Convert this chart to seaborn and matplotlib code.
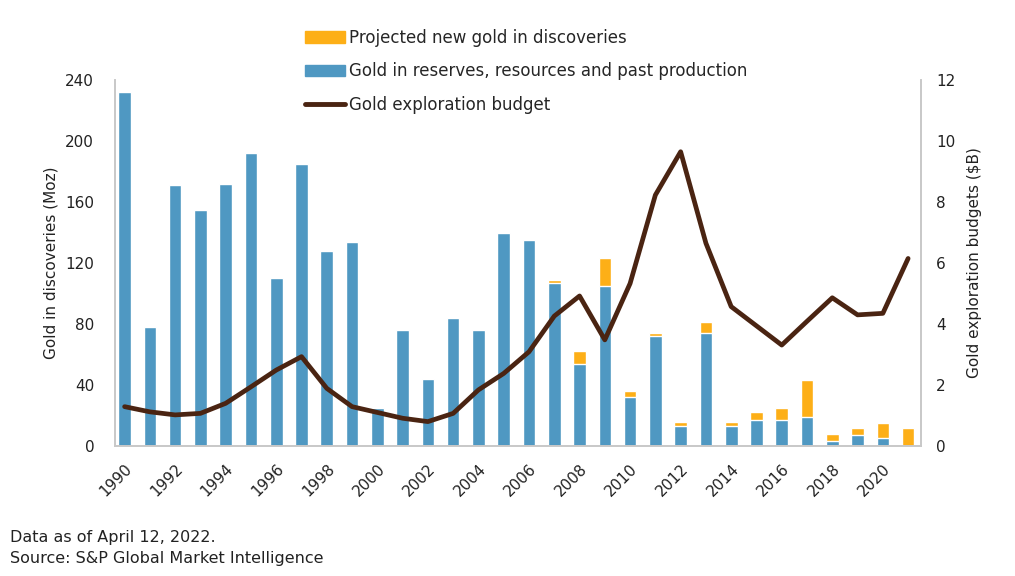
import numpy as np
import pandas as pd
import matplotlib
matplotlib.use("Agg")
import matplotlib.pyplot as plt
import seaborn as sns
from matplotlib.patches import Patch
from matplotlib.lines import Line2D

years = list(range(1990, 2022))
# Moz
reserves = [232, 78, 171, 155, 172, 192, 110, 185, 128, 134, 25, 76,
            44, 84, 76, 140, 135, 107, 54, 105, 32, 72, 13, 74,
            13, 17, 17, 19, 3, 7, 5, 0]
projected = [0, 0, 0, 0, 0, 0, 0, 0, 0, 0, 0, 0,
             0, 0, 0, 0, 0, 2, 8, 18, 4, 2, 3, 7,
             3, 5, 8, 24, 5, 5, 10, 12]
# $B
budget = [1.29, 1.12, 1.02, 1.07, 1.40, 1.94, 2.49, 2.93, 1.89, 1.29, 1.10, 0.91,
          0.80, 1.07, 1.84, 2.38, 3.09, 4.26, 4.92, 3.48, 5.33, 8.23, 9.65, 6.65,
          4.57, 3.94, 3.31, 4.09, 4.86, 4.30, 4.35, 6.15]

df = pd.DataFrame({"year": years, "reserves": reserves, "projected": projected, "budget": budget})
df["total"] = df["reserves"] + df["projected"]

blue = "#4F98C2"
orange = "#FDAF17"
brown = "#4A2412"
gray = "#C8C8C8"
txt = "#222222"

sns.set_style("white")
plt.rcParams["font.family"] = ["DejaVu Sans"]

fig, ax = plt.subplots(figsize=(10.15, 5.76), dpi=100)
fig.subplots_adjust(left=0.1133, right=0.9074, top=0.861, bottom=0.2257)

# stacked bars: total in orange, blue part drawn over it
sns.barplot(data=df, x="year", y="total", native_scale=True, width=0.5,
            color=orange, saturation=1, ax=ax)
sns.barplot(data=df, x="year", y="reserves", native_scale=True, width=0.5,
            color=blue, saturation=1, ax=ax)

ax2 = ax.twinx()
sns.lineplot(data=df, x="year", y="budget", color=brown, linewidth=3.4, ax=ax2)

ax.set_xlim(1989.62, 2021.51)
ax.set_ylim(0, 240)
ax2.set_ylim(0, 12)
ax.set_yticks(range(0, 241, 40))
ax2.set_yticks(range(0, 13, 2))
ax.set_xticks(range(1990, 2021, 2))
ax.set_xticklabels([str(y) for y in range(1990, 2021, 2)], rotation=45,
                   ha="right", rotation_mode="anchor")

ax.set_xlabel("")
ax.set_ylabel("Gold in discoveries (Moz)", fontsize=11, color=txt, labelpad=5)
ax2.set_ylabel("Gold exploration budgets ($B)", fontsize=11, color=txt,
               rotation=90, labelpad=8)

for a in (ax, ax2):
    a.tick_params(axis="both", length=0, labelsize=11, colors=txt)
    a.spines["top"].set_visible(False)
    for s in ("left", "right", "bottom"):
        a.spines[s].set_color(gray)
        a.spines[s].set_linewidth(1.2)
ax.tick_params(axis="y", pad=15)
ax.tick_params(axis="x", pad=11)
ax2.tick_params(axis="y", pad=11)

handles = [Patch(color=orange), Patch(color=blue), Line2D([0], [0], color=brown, linewidth=3.5)]
labels = ["Projected new gold in discoveries",
          "Gold in reserves, resources and past production",
          "Gold exploration budget"]
fig.legend(handles, labels, loc="upper left", bbox_to_anchor=(0.3005, 0.95),
           frameon=False, fontsize=12, handlelength=2.4, handleheight=0.65,
           handletextpad=0.25, labelspacing=0.93, borderpad=0, borderaxespad=0)

fig.text(0.01, 0.059, "Data as of April 12, 2022.", fontsize=11.5, color=txt)
fig.text(0.01, 0.023, "Source: S&P Global Market Intelligence", fontsize=11.5, color=txt)

fig.savefig("out.png", dpi=100)
